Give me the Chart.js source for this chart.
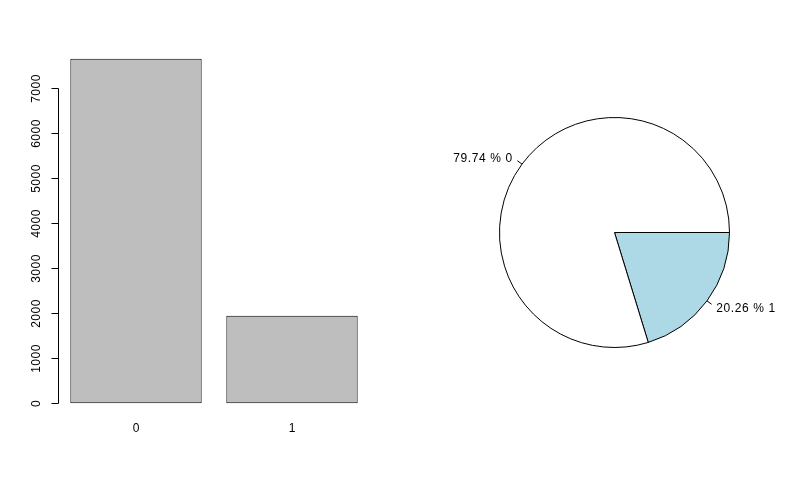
<!DOCTYPE html>
<html>
<head>
<meta charset="utf-8">
<script src="https://cdn.jsdelivr.net/npm/chart.js@4.4.0/dist/chart.umd.min.js"></script>
<style>
  html, body { margin: 0; padding: 0; background: #ffffff; }
  #wrap { position: relative; width: 800px; height: 480px; background: #ffffff; }
  #bar { position: absolute; left: 0; top: 0; }
  #pie { position: absolute; left: 400px; top: 0; }
</style>
</head>
<body>
<div id="wrap">
  <canvas id="bar" width="400" height="480"></canvas>
  <canvas id="pie" width="400" height="480"></canvas>
</div>
<script>
// ---- data ----
const categories = ['0', '1'];
const counts = [7644, 1942];
const yTicks = [0, 1000, 2000, 3000, 4000, 5000, 6000, 7000];
const pieColors = ['#FFFFFF', '#ADD8E6'];

const FONT = 'Arial, "Liberation Sans", sans-serif';
Chart.defaults.font.family = FONT;
Chart.defaults.font.size = 12;
Chart.defaults.color = '#000000';

const maxCount = Math.max(...counts);

// R-style y axis: line from first to last tick, ticks outward, labels rotated 90deg
const rAxisPlugin = {
  id: 'rAxis',
  afterDraw(chart) {
    const ctx = chart.ctx;
    const y = chart.scales.y;
    const x0 = chart.chartArea.left + 0.5;
    ctx.save();
    ctx.strokeStyle = '#000';
    ctx.lineWidth = 1;
    ctx.beginPath();
    ctx.moveTo(x0, Math.round(y.getPixelForValue(yTicks[0])) + 0.5);
    ctx.lineTo(x0, Math.round(y.getPixelForValue(yTicks[yTicks.length - 1])) + 0.5);
    ctx.stroke();
    ctx.font = '12px ' + FONT;
    if ('letterSpacing' in ctx) ctx.letterSpacing = '0.5px';
    ctx.fillStyle = '#000';
    ctx.textAlign = 'center';
    ctx.textBaseline = 'middle';
    yTicks.forEach(v => {
      const py = Math.round(y.getPixelForValue(v)) + 0.5;
      ctx.beginPath();
      ctx.moveTo(x0, py);
      ctx.lineTo(x0 - 7, py);
      ctx.stroke();
      ctx.save();
      ctx.translate(x0 - 22, py);
      ctx.rotate(-Math.PI / 2);
      ctx.fillText(String(v), 0, 0);
      ctx.restore();
    });
    ctx.restore();
  }
};

new Chart(document.getElementById('bar'), {
  type: 'bar',
  data: {
    labels: categories,
    datasets: [{
      data: counts,
      backgroundColor: '#BEBEBE',
      borderColor: '#000000',
      borderWidth: 1,
      borderSkipped: false,
      categoryPercentage: 1.0,
      barPercentage: 0.842
    }]
  },
  options: {
    responsive: false,
    animation: false,
    layout: { padding: { left: 58, right: 30, top: 45, bottom: 43 } },
    plugins: { legend: { display: false }, tooltip: { enabled: false } },
    scales: {
      x: {
        grid: { display: false, drawTicks: false },
        border: { display: false },
        ticks: { padding: 4, color: '#000', font: { size: 12 } },
        afterFit(s) { s.height = 20; }
      },
      y: {
        display: false,
        min: -0.04 * maxCount,
        max: 1.04 * maxCount
      }
    }
  },
  plugins: [rAxisPlugin]
});

// ---- pie ----
const total = counts.reduce((a, b) => a + b, 0);
const pieLabels = categories.map((c, i) => (counts[i] / total * 100).toFixed(2) + ' % ' + c);
// R draws counter-clockwise from 3 o'clock; Chart.js draws clockwise, so reverse order
const pieOrder = categories.map((c, i) => i).reverse();

const pieLabelPlugin = {
  id: 'pieLabels',
  afterDraw(chart) {
    const ctx = chart.ctx;
    const meta = chart.getDatasetMeta(0);
    ctx.save();
    ctx.strokeStyle = '#000';
    ctx.lineWidth = 1;
    ctx.fillStyle = '#000';
    ctx.font = '12px ' + FONT;
    if ('letterSpacing' in ctx) ctx.letterSpacing = '0.6px';
    ctx.textBaseline = 'middle';
    meta.data.forEach((arc, i) => {
      const p = arc.getProps(['x', 'y', 'startAngle', 'endAngle', 'outerRadius'], true);
      const mid = (p.startAngle + p.endAngle) / 2;
      const c = Math.cos(mid), s = Math.sin(mid);
      const r = p.outerRadius;
      ctx.beginPath();
      ctx.moveTo(p.x + r * c, p.y + r * s);
      ctx.lineTo(p.x + 1.05 * r * c, p.y + 1.05 * r * s);
      ctx.stroke();
      ctx.textAlign = c > 0 ? 'left' : 'right';
      ctx.fillText(chart.data.labels[i], p.x + 1.1 * r * c, p.y + 1.1 * r * s + 1);
    });
    ctx.restore();
  }
};

new Chart(document.getElementById('pie'), {
  type: 'pie',
  data: {
    labels: pieOrder.map(i => pieLabels[i]),
    datasets: [{
      data: pieOrder.map(i => counts[i]),
      backgroundColor: pieOrder.map(i => pieColors[i]),
      borderColor: '#000000',
      borderWidth: 1,
      hoverOffset: 0
    }]
  },
  options: {
    responsive: false,
    animation: false,
    rotation: 90,
    layout: { padding: { left: 99, right: 70, top: 117, bottom: 132 } },
    plugins: { legend: { display: false }, tooltip: { enabled: false } }
  },
  plugins: [pieLabelPlugin]
});
</script>
</body>
</html>
